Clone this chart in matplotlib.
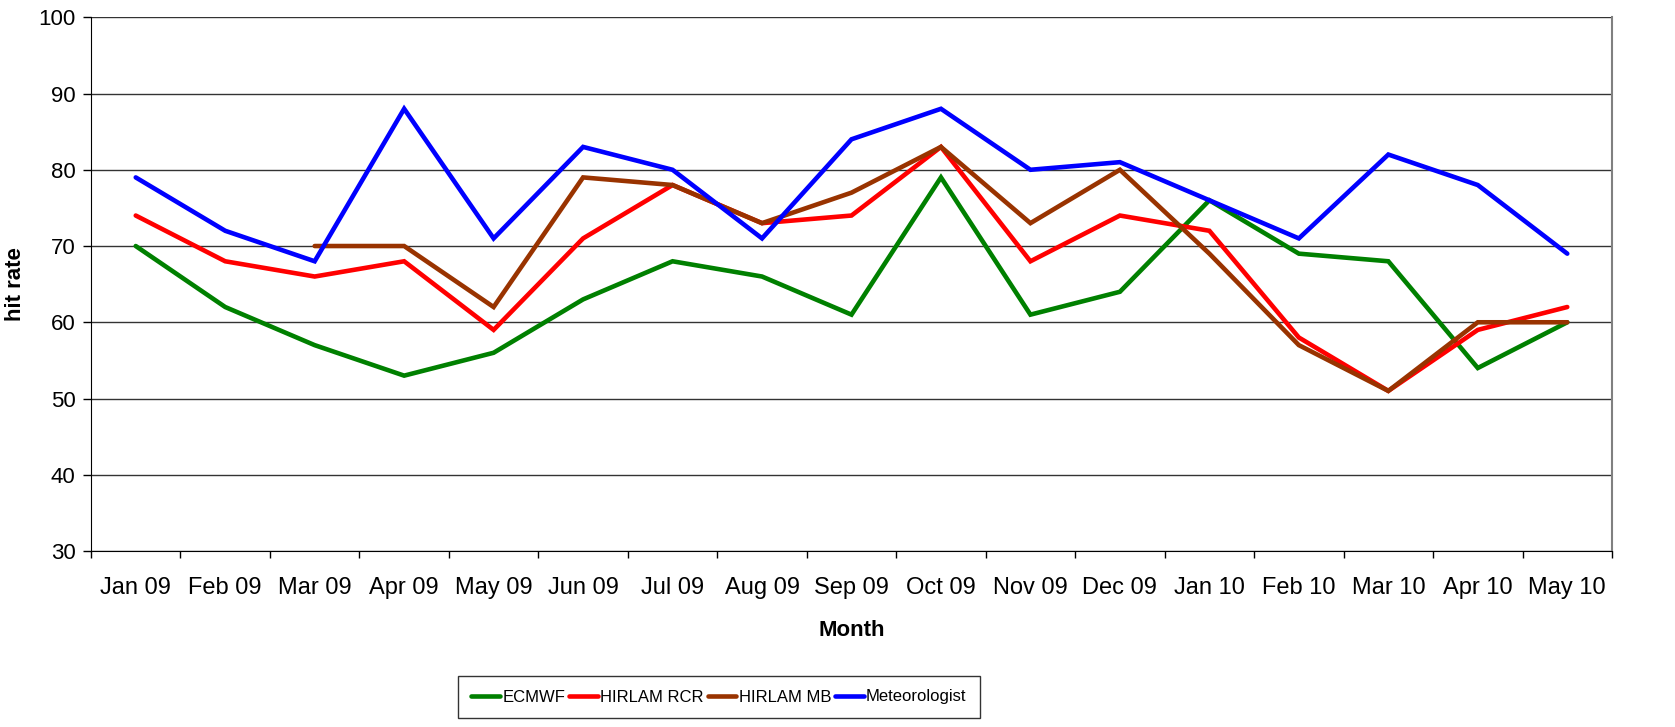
import numpy as np
import matplotlib.pyplot as plt
from matplotlib.ticker import FixedLocator, NullFormatter

plt.rcParams['font.family'] = ['Liberation Sans', 'DejaVu Sans']

months = ['Jan 09', 'Feb 09', 'Mar 09', 'Apr 09', 'May 09', 'Jun 09', 'Jul 09', 'Aug 09',
          'Sep 09', 'Oct 09', 'Nov 09', 'Dec 09', 'Jan 10', 'Feb 10', 'Mar 10', 'Apr 10', 'May 10']

ecmwf = [70, 62, 57, 53, 56, 63, 68, 66, 61, 79, 61, 64, 76, 69, 68, 54, 60]
hirlam_rcr = [74, 68, 66, 68, 59, 71, 78, 73, 74, 83, 68, 74, 72, 58, 51, 59, 62]
hirlam_mb = [np.nan, np.nan, 70, 70, 62, 79, 78, 73, 77, 83, 73, 80, 69, 57, 51, 60, 60]
meteorologist = [79, 72, 68, 88, 71, 83, 80, 71, 84, 88, 80, 81, 76, 71, 82, 78, 69]

series = [
    ('ECMWF', ecmwf, '#008000'),
    ('HIRLAM RCR', hirlam_rcr, '#FF0000'),
    ('HIRLAM MB', hirlam_mb, '#993300'),
    ('Meteorologist', meteorologist, '#0000FF'),
]

W, H = 1675, 727
fig = plt.figure(figsize=(W / 100, H / 100), dpi=100)
# plot area in pixels: left 91, right 1612, top 17, bottom 551
ax = fig.add_axes([91 / W, 1 - 551 / H, (1612 - 91) / W, (551 - 17.3) / H])

x = np.arange(len(months))
for name, vals, col in series:
    ax.plot(x, vals, color=col, lw=3.3, label=name, solid_capstyle='round',
            solid_joinstyle='miter')

ax.set_xlim(-0.5, len(months) - 0.5)
ax.set_ylim(30, 100)
ax.set_yticks(range(30, 101, 10))
ax.yaxis.grid(True, color='#333333', lw=1)
ax.set_axisbelow(True)

ax.set_xticks(x)
ax.set_xticklabels(months, fontsize=17)
ax.tick_params(axis='x', which='major', length=0, pad=19)
ax.xaxis.set_minor_locator(FixedLocator(np.arange(-0.5, len(months), 1.0)))
ax.xaxis.set_minor_formatter(NullFormatter())
ax.tick_params(axis='x', which='minor', length=5, width=1, direction='out')
ax.tick_params(axis='y', labelsize=16, length=6, width=1, direction='out', pad=5)

ax.spines['top'].set_visible(False)
ax.spines['right'].set_color('#808080')
ax.spines['right'].set_linewidth(1.5)
ax.spines['left'].set_color('black')
ax.spines['bottom'].set_color('black')

ax.set_ylabel('hit rate', fontsize=16, fontweight='bold')
ax.yaxis.set_label_coords((26 - 91) / 1521, 0.5)
ax.set_xlabel('Month', fontsize=16, fontweight='bold')
ax.xaxis.set_label_coords(0.5, (551 - 620) / 534)

leg = fig.legend(loc='center', bbox_to_anchor=(719 / W, 1 - 697 / H), ncol=4,
                 fontsize=12, frameon=True, fancybox=False, edgecolor='black',
                 handlelength=1.7, handletextpad=0.15, columnspacing=0.25,
                 borderpad=0.8)
leg.get_frame().set_linewidth(1)

fig.savefig('out.png', dpi=100)
